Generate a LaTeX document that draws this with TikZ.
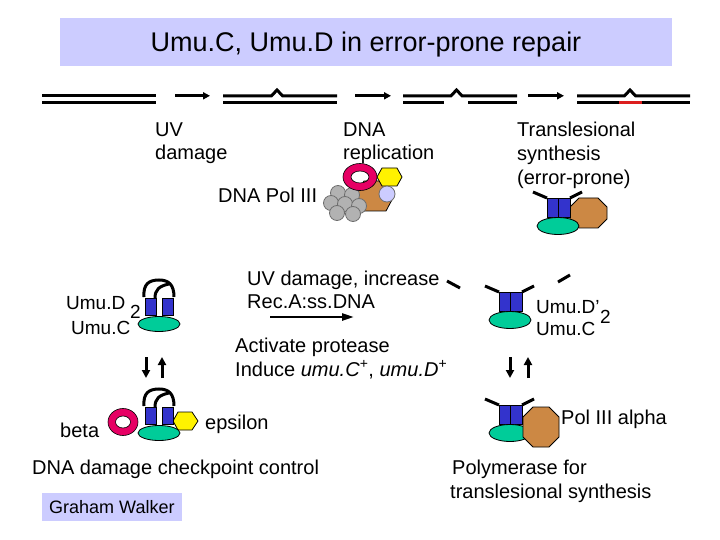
\documentclass[tikz,border=0pt]{standalone}
\usepackage{fontspec}
\setmainfont{Liberation Sans}
\usetikzlibrary{arrows.meta}
\definecolor{titlebg}{RGB}{204,204,255}
\definecolor{umublue}{RGB}{51,51,204}
\definecolor{umugreen}{RGB}{0,204,153}
\definecolor{ringpink}{RGB}{230,0,100}
\definecolor{polbrown}{RGB}{204,136,68}
\definecolor{lav}{RGB}{204,204,255}
\definecolor{polgray}{RGB}{178,178,178}
\definecolor{graydark}{RGB}{110,110,110}
\definecolor{dnared}{RGB}{220,30,30}
\tikzset{
  txt/.style={anchor=base west,inner sep=0pt,font=\fontsize{20}{24}\selectfont},
  umutxt/.style={anchor=base west,inner sep=0pt,font=\fontsize{19}{21}\selectfont},
  dna/.style={line width=3pt},
  dnaarrow/.style={line width=3pt,-{Triangle[length=7pt,width=7pt]}},
  fatarrow/.style={line width=3pt,-{Triangle[length=8pt,width=8pt]}},
  thinarrow/.style={line width=2.5pt,-{Triangle[length=12pt,width=7pt]}},
  fragline/.style={line width=3pt},
  umurect/.style={fill=umublue,draw=black,line width=0.8pt},
  umuell/.style={fill=umugreen,draw=black,line width=0.8pt},
  handle/.style={line width=3pt},
  outl/.style={draw=black,line width=0.8pt},
  umuleft/.pic={
    \draw[handle] (-1,-1) .. controls (-2,-14) and (4,-18) .. (14,-18) .. controls (24,-18) and (29,-13) .. (29,-1);
    \draw[handle] (10,0) .. controls (10,-8) and (14,-12) .. (24,-14);
    \filldraw[umurect] (0,0) rectangle (11,17);
    \filldraw[umurect] (17,0) rectangle (28,17);
    \filldraw[umuell] (14,26) ellipse (21 and 7.5);
  },
  umuright/.pic={
    \draw[handle] (-14,-6) -- (0,0);
    \draw[handle] (35,-6) -- (23,0);
    \filldraw[umurect] (0,0) rectangle (11.5,19);
    \filldraw[umurect] (11.5,0) rectangle (23,19);
    \filldraw[umuell] (11,28) ellipse (21 and 8.5);
  },
}
\begin{document}
\begin{tikzpicture}[x=1pt,y=-1pt]
\useasboundingbox[fill=white] (0,0) rectangle (720,540);
% title
\fill[titlebg] (60,18) rectangle (672,66);
\node[anchor=base,inner sep=0pt,font=\fontsize{27}{30}\selectfont] (title) at (366,52) {Umu.C, Umu.D in error-prone repair};

% DNA strands
\draw[dna] (42,95.8) -- (156,95.8);
\draw[dna] (42,102.5) -- (156,102.5);
\coordinate (a1s) at (175,95.8); \coordinate (a1e) at (210,95.8);
\draw[dnaarrow] (a1s) -- (a1e);
\draw[dna] (223,95.8) -- (271.5,95.8) -- (277,90) -- (282.5,95.8) -- (337,95.8);
\draw[dna] (223,102.5) -- (337,102.5);
\coordinate (a2s) at (355,95.8); \coordinate (a2e) at (391,95.8);
\draw[dnaarrow] (a2s) -- (a2e);
\draw[dna] (403,95.8) -- (451,95.8) -- (456.5,90) -- (462,95.8) -- (517,95.8);
\draw[dna] (403,102.5) -- (444,102.5);
\draw[dna] (468,102.5) -- (517,102.5);
\coordinate (a3s) at (528,95.8); \coordinate (a3e) at (564,95.8);
\draw[dnaarrow] (a3s) -- (a3e);
\draw[dna] (577,95.8) -- (624.5,95.8) -- (630,90) -- (635.5,95.8) -- (690,95.8);
\draw[dna] (577,102.5) -- (619,102.5);
\draw[dna,dnared] (619,102.5) -- (642,102.5);
\draw[dna] (642,102.5) -- (690,102.5);

% top texts
\node[txt] (uv1) at (155,137) {UV};
\node[txt] (uv2) at (155,160) {damage};
\node[txt] (rep1) at (343,137) {DNA};
\node[txt] (rep2) at (343,160) {replication};
\node[txt] (tls1) at (517,137) {Translesional};
\node[txt] (tls2) at (517,161) {synthesis};
\node[txt] (tls3) at (517,185) {(error-prone)};
\node[txt] (pol3) at (218,203) {DNA Pol III};

% Pol III cluster
\filldraw[fill=polbrown,outl] (364,181) -- (386,181) -- (394,196) -- (386,211) -- (362,211) -- (355,196) -- cycle;
\filldraw[fill=yellow,outl] (382,168) -- (397,168) -- (402,177) -- (397,186) -- (382,186) -- (377,177) -- cycle;
\filldraw[fill=lav,draw=graydark,line width=0.8pt] (387,194) circle (8);
\foreach \cx/\cy in {338/193,352/195,331/203,345/204,359/206,337/213,353/214}
  \filldraw[fill=polgray,draw=graydark,line width=0.8pt] (\cx,\cy) circle (7.5);
\fill[ringpink,even odd rule] (360,177) ellipse (17 and 13.5) (360,177) ellipse (9 and 6);
\draw[line width=0.6pt] (360,177) ellipse (17 and 13.5) (360,177) ellipse (9 and 6);

% top right complex
\filldraw[fill=polbrown,outl] (579,198) -- (598,198) -- (607,207) -- (607,219) -- (598,228) -- (579,228) -- (570,219) -- (570,207) -- cycle;
\pic at (547,198) {umuright};

% left upper complex
\pic at (145,298) {umuleft};
\node[umutxt] (ud2) at (66,309) {Umu.D};
\node[umutxt] (ud2sub) at (130,318) {2};
\node[umutxt] (uc1) at (71,334) {Umu.C};
\coordinate (l1s) at (146,357); \coordinate (l1e) at (146,378);
\coordinate (l2s) at (162,378); \coordinate (l2e) at (162,357);
\draw[fatarrow] (l1s) -- (l1e);
\draw[fatarrow] (l2s) -- (l2e);

% left lower complex
\filldraw[fill=yellow,outl] (178,412) -- (192,412) -- (198,421) -- (192,430) -- (178,430) -- (173,421) -- cycle;
\fill[ringpink,even odd rule] (123,422) ellipse (15 and 13.5) (123,422) ellipse (7.5 and 6);
\draw[line width=0.6pt] (123,422) ellipse (15 and 13.5) (123,422) ellipse (7.5 and 6);
\pic at (145,407) {umuleft};
\node[txt] (beta) at (60,437) {beta};
\node[txt] (eps) at (205,429) {epsilon};

% middle texts
\node[txt] (uvd1) at (247,285) {UV damage, increase};
\node[txt] (uvd2) at (247,308) {Rec.A:ss.DNA};
\coordinate (ms) at (270,317); \coordinate (me) at (354,317);
\draw[thinarrow] (ms) -- (me);
\node[txt] (act1) at (235,352) {Activate protease};
\node[txt] (act2) at (235,376) {Induce \textit{umu.C}\textsuperscript{+}, \textit{umu.D}\textsuperscript{+}};

% fragments
\coordinate (f1s) at (447,281); \coordinate (f1e) at (460,288);
\draw[fragline] (f1s) -- (f1e);
\coordinate (f2s) at (558,282); \coordinate (f2e) at (570,275);
\draw[fragline] (f2s) -- (f2e);

% right middle complex
\pic at (499,292) {umuright};
\node[umutxt] (udp) at (536,313) {Umu.D’};
\node[umutxt] (udpsub) at (600,323) {2};
\node[umutxt] (uc2) at (536,335) {Umu.C};
\coordinate (r1s) at (510,357); \coordinate (r1e) at (510,378);
\coordinate (r2s) at (528,378); \coordinate (r2e) at (528,357);
\draw[fatarrow] (r1s) -- (r1e);
\draw[fatarrow] (r2s) -- (r2e);

% right lower complex
\pic at (499,405) {umuright};
\filldraw[fill=polbrown,outl] (533,407) -- (549,407) -- (559,417) -- (559,437) -- (549,447) -- (533,447) -- (523,437) -- (523,417) -- cycle;
\node[txt] (pa) at (561,424) {Pol III alpha};

% bottom texts
\node[txt] (chk) at (32,474) {DNA damage checkpoint control};
\fill[titlebg] (42,493) rectangle (182,521);
\node[anchor=base west,inner sep=0pt,font=\fontsize{18}{20}\selectfont] (gw) at (49,513) {Graham Walker};
\node[txt] (pf1) at (452,474) {Polymerase for};
\node[txt] (pf2) at (450,498) {translesional synthesis};
\end{tikzpicture}
\end{document}
